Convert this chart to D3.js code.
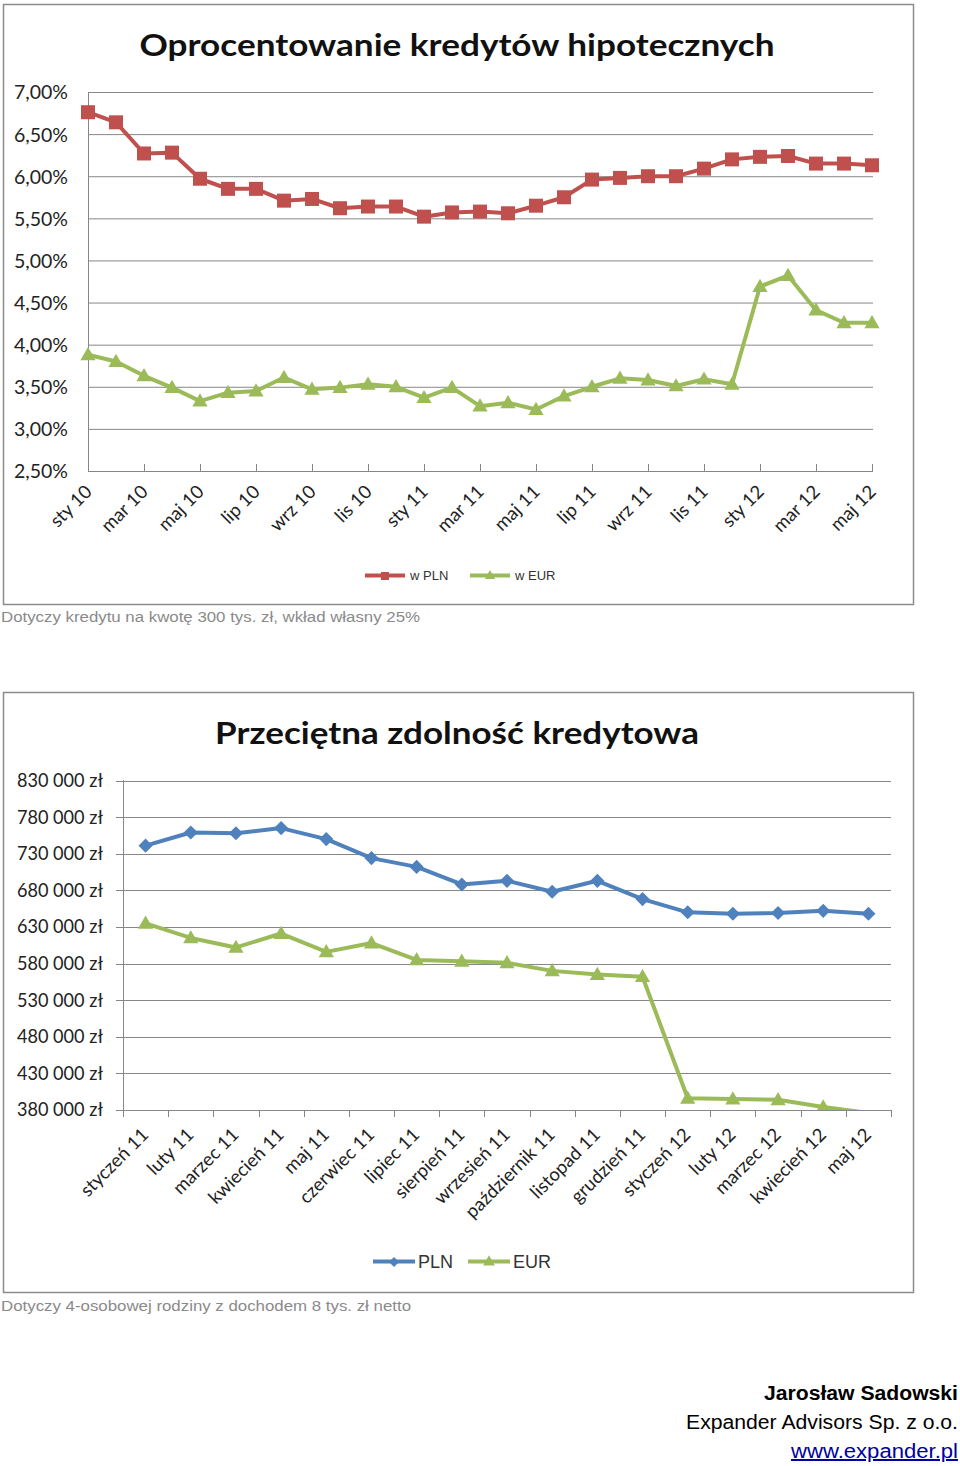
<!DOCTYPE html>
<html><head><meta charset="utf-8">
<script src="https://cdn.jsdelivr.net/npm/d3@7"></script>
<style>
html,body{margin:0;padding:0;background:#fff;}
svg{display:block;}
</style></head>
<body>
<svg id="c" width="960" height="1466"></svg>
<script>
// ---------- Data: chart 1 (interest rates, %) ----------
const months1 = ["sty 10","lut 10","mar 10","kwi 10","maj 10","cze 10","lip 10","sie 10","wrz 10","paź 10","lis 10","gru 10",
  "sty 11","lut 11","mar 11","kwi 11","maj 11","cze 11","lip 11","sie 11","wrz 11","paź 11","lis 11","gru 11",
  "sty 12","lut 12","mar 12","kwi 12","maj 12"];
const ratePLN = [6.76,6.64,6.27,6.28,5.97,5.85,5.85,5.71,5.73,5.62,5.64,5.64,5.52,5.57,5.58,5.56,5.65,5.75,5.96,5.98,6.00,6.00,6.09,6.20,6.23,6.24,6.15,6.15,6.13];
const rateEUR = [3.88,3.80,3.63,3.49,3.33,3.43,3.45,3.61,3.47,3.49,3.53,3.50,3.37,3.49,3.27,3.31,3.23,3.39,3.50,3.60,3.58,3.51,3.59,3.53,4.69,4.82,4.41,4.26,4.26];
const yTicks1 = [2.5,3,3.5,4,4.5,5,5.5,6,6.5,7];
const yTickLabels1 = ["2,50%","3,00%","3,50%","4,00%","4,50%","5,00%","5,50%","6,00%","6,50%","7,00%"];
const xTickLabels1 = ["sty 10","mar 10","maj 10","lip 10","wrz 10","lis 10","sty 11","mar 11","maj 11","lip 11","wrz 11","lis 11","sty 12","mar 12","maj 12"];
const legend1 = ["w PLN","w EUR"];

// ---------- Data: chart 2 (credit capacity, zł) ----------
const months2 = ["styczeń 11","luty 11","marzec 11","kwiecień 11","maj 11","czerwiec 11","lipiec 11","sierpień 11","wrzesień 11","październik 11","listopad 11","grudzień 11","styczeń 12","luty 12","marzec 12","kwiecień 12","maj 12"];
const capPLN = [741000,759000,758000,765000,750000,724000,712000,688000,693000,678000,693000,668000,650000,648000,649000,652000,648000];
const capEUR = [635000,615000,602000,621000,596000,608000,585000,583000,581000,570000,565000,562000,396000,395000,394000,384000,376000];
const yTicks2 = [380000,430000,480000,530000,580000,630000,680000,730000,780000,830000];
const yTickLabels2 = ["380 000 zł","430 000 zł","480 000 zł","530 000 zł","580 000 zł","630 000 zł","680 000 zł","730 000 zł","780 000 zł","830 000 zł"];
const legend2 = ["PLN","EUR"];

const RED = "#C0504D", GREEN = "#9BBB59", BLUE = "#4F81BD";
const GRID = "#878787", TXT = "#222";
const FONT = "Lato, 'Open Sans', sans-serif";
const NARROW = "'Liberation Sans Narrow', 'Liberation Sans', Arial, sans-serif";

const svg = d3.select("#c");

// ================= CHART 1 =================
const g1 = svg.append("g");
g1.append("rect").attr("x",3.5).attr("y",4.5).attr("width",910).attr("height",600)
  .attr("fill","#fff").attr("stroke","#8c8c8c").attr("stroke-width",1.5);
g1.append("text").attr("x",457).attr("y",56).attr("text-anchor","middle")
  .attr("font-family",FONT).attr("font-weight","bold").attr("font-size",31).attr("fill","#111")
  .attr("textLength",635).attr("lengthAdjust","spacingAndGlyphs")
  .text("Oprocentowanie kredytów hipotecznych");

const x1 = d3.scalePoint().domain(months1).range([88, 872]);
const y1 = d3.scaleLinear().domain([2.5, 7]).range([471, 92]);

g1.selectAll(".grid").data(yTicks1.slice(1)).join("line")
  .attr("x1",88).attr("x2",873).attr("y1",d=>y1(d)+0.5).attr("y2",d=>y1(d)+0.5)
  .attr("stroke",GRID).attr("stroke-width",1);
g1.selectAll(".yl").data(yTicks1).join("text")
  .attr("x",68).attr("y",(d)=>y1(d)+1).attr("dy","0.35em").attr("text-anchor","end")
  .attr("font-family",FONT).attr("font-size",18.5).attr("fill",TXT)
  .attr("textLength",54).attr("lengthAdjust","spacingAndGlyphs")
  .text((d,i)=>yTickLabels1[i]);
g1.append("line").attr("x1",88.5).attr("x2",88.5).attr("y1",92).attr("y2",471.5).attr("stroke",GRID);
g1.append("line").attr("x1",88).attr("x2",873).attr("y1",471.5).attr("y2",471.5).attr("stroke",GRID);
g1.selectAll(".tk").data(xTickLabels1).join("line")
  .attr("x1",d=>x1(d)+0.5).attr("x2",d=>x1(d)+0.5).attr("y1",471).attr("y2",464)
  .attr("stroke",GRID);
g1.selectAll(".xl").data(xTickLabels1).join("text")
  .attr("transform",d=>`translate(${x1(d)+5},${493}) rotate(-45)`)
  .attr("text-anchor","end").attr("font-family",FONT).attr("font-size",18.5).attr("fill",TXT)
  .text(d=>d);

const line1 = d3.line().x((d,i)=>x1(months1[i])).y(d=>y1(d));
g1.append("path").datum(ratePLN).attr("d",line1).attr("fill","none").attr("stroke",RED).attr("stroke-width",4).attr("stroke-linejoin","round");
g1.append("path").datum(rateEUR).attr("d",line1).attr("fill","none").attr("stroke",GREEN).attr("stroke-width",4).attr("stroke-linejoin","round");
const sq = d3.symbol().type(d3.symbolSquare).size(196);
const tri = d3.symbol().type(d3.symbolTriangle).size(100);
g1.selectAll(".mp").data(ratePLN).join("path")
  .attr("transform",(d,i)=>`translate(${x1(months1[i])},${y1(d)})`).attr("d",sq).attr("fill",RED);
g1.selectAll(".me").data(rateEUR).join("path")
  .attr("transform",(d,i)=>`translate(${x1(months1[i])},${y1(d)+1})`).attr("d",tri).attr("fill",GREEN);

const lg1 = [{c:RED, s:d3.symbol().type(d3.symbolSquare).size(64), x:365, name:legend1[0]},
             {c:GREEN, s:d3.symbol().type(d3.symbolTriangle).size(45), x:470, name:legend1[1]}];
lg1.forEach(l=>{
  g1.append("line").attr("x1",l.x).attr("x2",l.x+40).attr("y1",575.5).attr("y2",575.5).attr("stroke",l.c).attr("stroke-width",4);
  g1.append("path").attr("transform",`translate(${l.x+20},${576})`).attr("d",l.s).attr("fill",l.c);
  g1.append("text").attr("x",l.x+45).attr("y",580).attr("font-family",NARROW).attr("font-size",13).attr("fill","#333").text(l.name);
});
svg.append("text").attr("x",1).attr("y",622).attr("font-family",NARROW).attr("font-size",15.5).attr("fill","#8a8a8a")
  .attr("textLength",419).attr("lengthAdjust","spacingAndGlyphs")
  .text("Dotyczy kredytu na kwotę 300 tys. zł, wkład własny 25%");

// ================= CHART 2 =================
const g2 = svg.append("g");
g2.append("rect").attr("x",3.5).attr("y",692.5).attr("width",910).attr("height",600)
  .attr("fill","#fff").attr("stroke","#8c8c8c").attr("stroke-width",1.5);
g2.append("text").attr("x",457).attr("y",744).attr("text-anchor","middle")
  .attr("font-family",FONT).attr("font-weight","bold").attr("font-size",31).attr("fill","#111")
  .attr("textLength",484).attr("lengthAdjust","spacingAndGlyphs")
  .text("Przeciętna zdolność kredytowa");

const x2 = d3.scaleBand().domain(months2).range([123, 891]);
const cx2 = d => x2(d) + x2.bandwidth()/2;
const y2 = d3.scaleLinear().domain([380000, 830000]).range([1110, 780.5]);

g2.selectAll(".grid").data(yTicks2).join("line")
  .attr("x1",116).attr("x2",891).attr("y1",d=>Math.round(y2(d))+0.5).attr("y2",d=>Math.round(y2(d))+0.5)
  .attr("stroke",GRID);
g2.selectAll(".yl").data(yTicks2).join("text")
  .attr("x",103).attr("y",d=>y2(d)).attr("dy","0.35em").attr("text-anchor","end")
  .attr("font-family",FONT).attr("font-size",18.5).attr("fill",TXT)
  .attr("textLength",86).attr("lengthAdjust","spacingAndGlyphs")
  .text((d,i)=>yTickLabels2[i]);
g2.append("line").attr("x1",123.5).attr("x2",123.5).attr("y1",780).attr("y2",1110.5).attr("stroke",GRID);
const bounds = months2.map(d=>x2(d)).concat([x2.range()[1]]);
g2.selectAll(".tk").data(bounds).join("line")
  .attr("x1",d=>Math.round(d)+0.5).attr("x2",d=>Math.round(d)+0.5).attr("y1",1110).attr("y2",1117)
  .attr("stroke",GRID);
g2.selectAll(".xl").data(months2).join("text")
  .attr("transform",d=>`translate(${cx2(d)+4},${1136}) rotate(-45)`)
  .attr("text-anchor","end").attr("font-family",FONT).attr("font-size",18.5).attr("fill",TXT)
  .text(d=>d);

g2.append("clipPath").attr("id","clip2").append("rect").attr("x",116).attr("y",770).attr("width",790).attr("height",340);
const plot2 = g2.append("g").attr("clip-path","url(#clip2)");
const line2 = d3.line().x((d,i)=>cx2(months2[i])).y(d=>y2(d));
plot2.append("path").datum(capPLN).attr("d",line2).attr("fill","none").attr("stroke",BLUE).attr("stroke-width",4).attr("stroke-linejoin","round");
plot2.append("path").datum(capEUR).attr("d",line2).attr("fill","none").attr("stroke",GREEN).attr("stroke-width",4).attr("stroke-linejoin","round");
const dia = d3.symbol().type(d3.symbolSquare).size(100);
plot2.selectAll(".mp").data(capPLN).join("path")
  .attr("transform",(d,i)=>`translate(${cx2(months2[i])},${y2(d)}) rotate(45)`).attr("d",dia).attr("fill",BLUE);
plot2.selectAll(".me").data(capEUR.filter(d=>d>=380000)).join("path")
  .attr("transform",(d,i)=>`translate(${cx2(months2[i])},${y2(d)+1})`).attr("d",tri).attr("fill",GREEN);

const lg2 = [{c:BLUE, s:d3.symbol().type(d3.symbolSquare).size(50), r:45, x:373, name:legend2[0]},
             {c:GREEN, s:d3.symbol().type(d3.symbolTriangle).size(60), r:0, x:468, name:legend2[1]}];
lg2.forEach(l=>{
  g2.append("line").attr("x1",l.x).attr("x2",l.x+42).attr("y1",1261.5).attr("y2",1261.5).attr("stroke",l.c).attr("stroke-width",4);
  g2.append("path").attr("transform",`translate(${l.x+21},${1262}) rotate(${l.r})`).attr("d",l.s).attr("fill",l.c);
  g2.append("text").attr("x",l.x+45).attr("y",1268).attr("font-family",NARROW).attr("font-size",18).attr("fill","#333").text(l.name);
});
svg.append("text").attr("x",1).attr("y",1311).attr("font-family",NARROW).attr("font-size",15.5).attr("fill","#8a8a8a")
  .attr("textLength",410).attr("lengthAdjust","spacingAndGlyphs")
  .text("Dotyczy 4-osobowej rodziny z dochodem 8 tys. zł netto");

// ================= Signature =================
const sig = svg.append("g").attr("font-family","'Liberation Sans', Arial, sans-serif").attr("text-anchor","end");
sig.append("text").attr("x",958).attr("y",1400).attr("font-size",20).attr("font-weight","bold").attr("fill","#000")
  .attr("textLength",194).attr("lengthAdjust","spacingAndGlyphs").text("Jarosław Sadowski");
sig.append("text").attr("x",958).attr("y",1429).attr("font-size",20).attr("fill","#000")
  .attr("textLength",272).attr("lengthAdjust","spacingAndGlyphs").text("Expander Advisors Sp. z o.o.");
sig.append("text").attr("x",958).attr("y",1458).attr("font-size",20).attr("fill","#0000a0")
  .attr("text-decoration","underline")
  .attr("textLength",167).attr("lengthAdjust","spacingAndGlyphs").text("www.expander.pl");
</script>
</body></html>
